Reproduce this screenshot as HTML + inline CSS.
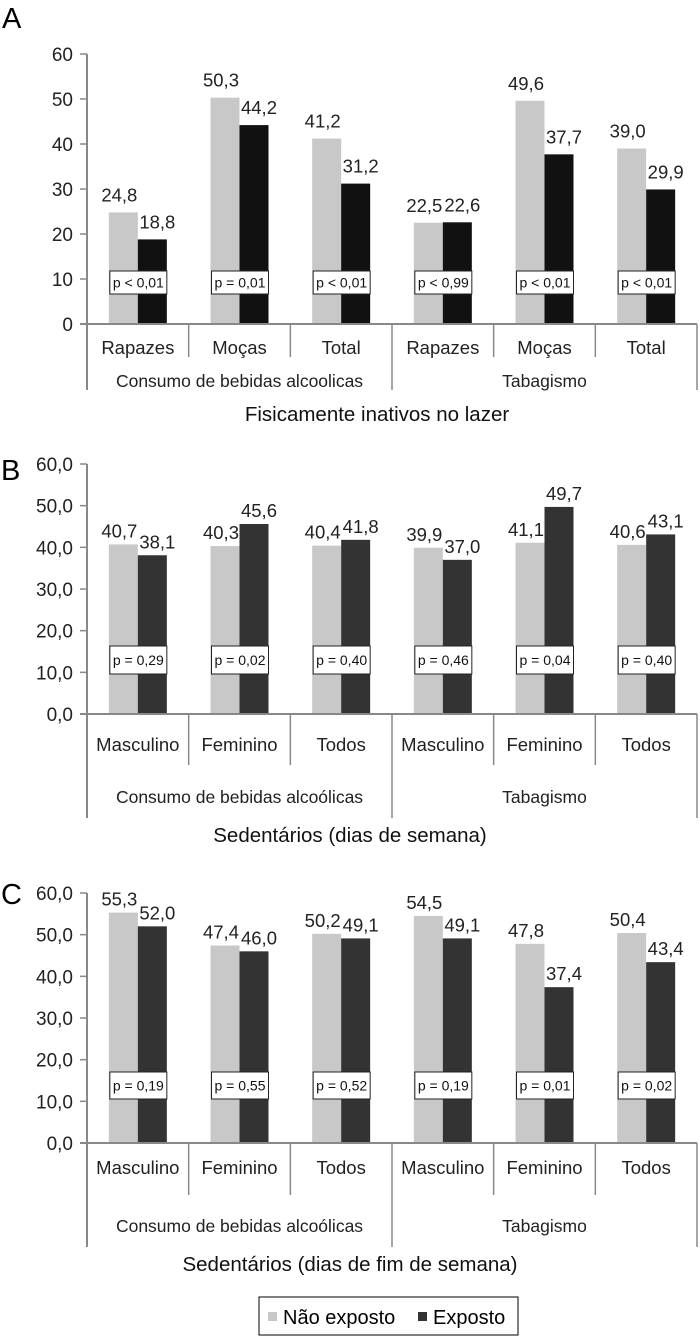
<!DOCTYPE html>
<html><head><meta charset="utf-8"><style>
body{margin:0;background:#fff;width:700px;height:1337px;overflow:hidden}
svg{display:block;font-family:"Liberation Sans",sans-serif}
</style></head><body>
<svg id="chart" width="700" height="1337" viewBox="0 0 700 1337" xmlns="http://www.w3.org/2000/svg">
<g id="root"></g>
<g>
<rect x="259" y="1297" width="259" height="38" fill="#fff" stroke="#000" stroke-width="1"/>
<rect x="268" y="1312" width="9" height="9" fill="#c8c8c8"/>
<text x="283" y="1324" font-size="20">Não exposto</text>
<rect x="418" y="1312" width="9" height="9" fill="#333"/>
<text x="433" y="1324" font-size="20">Exposto</text>
</g>
</svg>
<script>
const categoriesA = ["Rapazes","Moças","Total","Rapazes","Moças","Total"];
const groupsA = ["Consumo de bebidas alcoolicas","Tabagismo"];
const naoExpostoA = [24.8,50.3,41.2,22.5,49.6,39.0];
const expostoA = [18.8,44.2,31.2,22.6,37.7,29.9];
const pValuesA = ["p < 0,01","p = 0,01","p < 0,01","p < 0,99","p < 0,01","p < 0,01"];
const ticksA = ["0","10","20","30","40","50","60"];

const categoriesB = ["Masculino","Feminino","Todos","Masculino","Feminino","Todos"];
const groupsB = ["Consumo de bebidas alcoólicas","Tabagismo"];
const naoExpostoB = [40.7,40.3,40.4,39.9,41.1,40.6];
const expostoB = [38.1,45.6,41.8,37.0,49.7,43.1];
const pValuesB = ["p = 0,29","p = 0,02","p = 0,40","p = 0,46","p = 0,04","p = 0,40"];
const ticksB = ["0,0","10,0","20,0","30,0","40,0","50,0","60,0"];

const categoriesC = ["Masculino","Feminino","Todos","Masculino","Feminino","Todos"];
const groupsC = ["Consumo de bebidas alcoólicas","Tabagismo"];
const naoExpostoC = [55.3,47.4,50.2,54.5,47.8,50.4];
const expostoC = [52.0,46.0,49.1,49.1,37.4,43.4];
const pValuesC = ["p = 0,19","p = 0,55","p = 0,52","p = 0,19","p = 0,01","p = 0,02"];
const ticksC = ["0,0","10,0","20,0","30,0","40,0","50,0","60,0"];

const NS="http://www.w3.org/2000/svg";
const root=document.getElementById('root');
function el(tag,attrs,parent,txt){const e=document.createElementNS(NS,tag);for(const k in attrs)e.setAttribute(k,attrs[k]);if(txt!==undefined)e.textContent=txt;(parent||root).appendChild(e);return e;}

function panel(cfg){
  const g=el('g',{});
  
  
  const x0=87,x1=697,yTop=cfg.yTop,yBot=cfg.yBot,max=60;
  const cw=(x1-x0)/cfg.cats.length;
  const y=v=>yBot-(v/max)*(yBot-yTop);
  const L=el('text',{x:cfg.letterX,y:cfg.letterY,'font-size':29},g,cfg.id);
  
  
  const ax=el('line',{x1:x0,y1:yTop,x2:x0,y2:cfg.axisEnd,stroke:'#888','stroke-width':2},g);
  
  
  cfg.ticks.forEach((t,i)=>{
    const v=i*10,yy=y(v);
    el('line',{x1:x0-7,y1:yy,x2:x0,y2:yy,stroke:'#888','stroke-width':1.5},g);
    const tl=el('text',{x:x0-14,y:yy+7,'font-size':19,'text-anchor':'end',fill:'#222'},g,t);
    
    
  });
  cfg.cats.forEach((c,i)=>{
    const cx=x0+cw*i+cw/2;
    const bw=29;
    const b1=el('rect',{x:cx-bw,y:y(cfg.a[i]),width:bw,height:yBot-y(cfg.a[i]),fill:'#c8c8c8'},g);
    
    
    const b2=el('rect',{x:cx,y:y(cfg.b[i]),width:bw,height:yBot-y(cfg.b[i]),fill:cfg.dark},g);
    
    
    const fa=v=>v.toFixed(1).replace('.',',');
    const l1=el('text',{x:cx-bw/2-4,y:y(cfg.a[i])-cfg.lblOff,'font-size':18.5,'text-anchor':'middle',fill:'#222'},g,fa(cfg.a[i]));
    
    
    const l2=el('text',{x:cx+bw/2+5,y:y(cfg.b[i])-cfg.lblOff,'font-size':18.5,'text-anchor':'middle',fill:'#222'},g,fa(cfg.b[i]));
    
    
    const pb=el('rect',{x:cx-28,y:cfg.pY,width:57,height:cfg.pH,fill:'#fff',stroke:'#222','stroke-width':1},g);
    
    
    const pt=el('text',{x:cx+0.5,y:cfg.pY+cfg.pH/2+5,'font-size':14,'text-anchor':'middle',fill:'#111'},g,cfg.p[i]);
    
    
    const cl=el('text',{x:cx,y:cfg.catY,'font-size':18.5,'text-anchor':'middle',fill:'#222'},g,c);
    
    
    if(i>0){
      const big=(i===3);
      const d=el('line',{x1:x0+cw*i,y1:yBot,x2:x0+cw*i,y2:big?cfg.axisEnd:cfg.divEnd,stroke:'#888','stroke-width':1.5},g);
      
      
    }
  });
  el('line',{x1:x1,y1:yBot,x2:x1,y2:cfg.axisEnd,stroke:'#888','stroke-width':1.5},g);
  const xa=el('line',{x1:x0-7,y1:yBot,x2:x1,y2:yBot,stroke:'#888','stroke-width':2},g);
  
  
  cfg.groups.forEach((gr,j)=>{
    const gl=el('text',{x:x0+cw*3*j+cw*1.5,y:cfg.grpY,'font-size':17.5,'text-anchor':'middle',fill:'#222'},g,gr);
    
    
  });
  const tt=el('text',{x:cfg.titleX,y:cfg.titleY,'font-size':20.5,'text-anchor':'middle',fill:'#111'},g,cfg.title);
  
  
}
panel({id:'A',letterX:2,letterY:28,yTop:54,yBot:324,axisEnd:390,divEnd:357,catY:354,grpY:387,titleX:377,titleY:421,
  cats:categoriesA,groups:groupsA,a:naoExpostoA,b:expostoA,p:pValuesA,ticks:ticksA,dark:'#111',lblOff:11,pY:271,pH:23,title:'Fisicamente inativos no lazer'});
panel({id:'B',letterX:1,letterY:480,yTop:464,yBot:714,axisEnd:818,divEnd:765,catY:751,grpY:803,titleX:350,titleY:842,
  cats:categoriesB,groups:groupsB,a:naoExpostoB,b:expostoB,p:pValuesB,ticks:ticksB,dark:'#333',lblOff:7,pY:646,pH:28,title:'Sedentários (dias de semana)'});
panel({id:'C',letterX:1,letterY:904,yTop:893,yBot:1143,axisEnd:1247,divEnd:1195,catY:1174,grpY:1232,titleX:350,titleY:1271,
  cats:categoriesC,groups:groupsC,a:naoExpostoC,b:expostoC,p:pValuesC,ticks:ticksC,dark:'#333',lblOff:7,pY:1072,pH:27,title:'Sedentários (dias de fim de semana)'});
</script>
</body></html>
